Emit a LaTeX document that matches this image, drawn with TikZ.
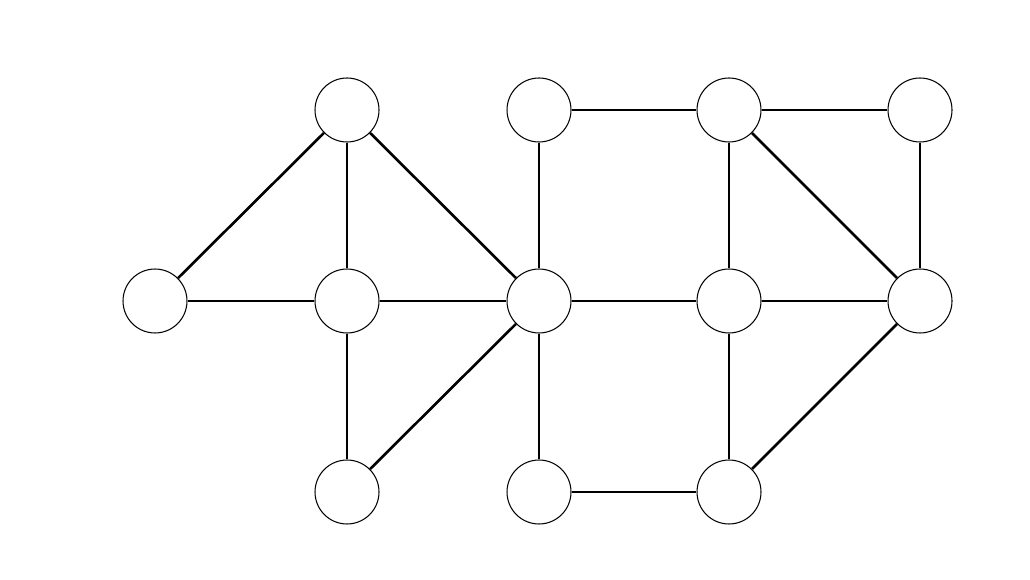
\documentclass[tikz,border=0pt]{standalone}
\begin{document}
\begin{tikzpicture}[x=0.02cm,y=-0.02cm,
  vtx/.style={circle,draw,line width=0.6pt,fill=white,minimum size=1.28cm,inner sep=0pt},
  edge/.style={line width=1.5pt}]
\useasboundingbox (0,0) rectangle (1030,580);
\node[vtx] (a) at (347,110) {};
\node[vtx] (b) at (539,110) {};
\node[vtx] (c) at (729,110) {};
\node[vtx] (d) at (920,110) {};
\node[vtx] (e) at (155,301) {};
\node[vtx] (f) at (347,301) {};
\node[vtx] (g) at (539,301) {};
\node[vtx] (h) at (729,301) {};
\node[vtx] (i) at (920,301) {};
\node[vtx] (j) at (347,492) {};
\node[vtx] (k) at (539,492) {};
\node[vtx] (l) at (729,492) {};
\foreach \u/\v in {a/e,a/f,a/g,e/f,f/g,f/j,j/g,b/c,b/g,c/d,c/h,c/i,d/i,g/h,h/i,g/k,k/l,h/l,i/l}
  \draw[edge] (\u) -- (\v);
\end{tikzpicture}
\end{document}
